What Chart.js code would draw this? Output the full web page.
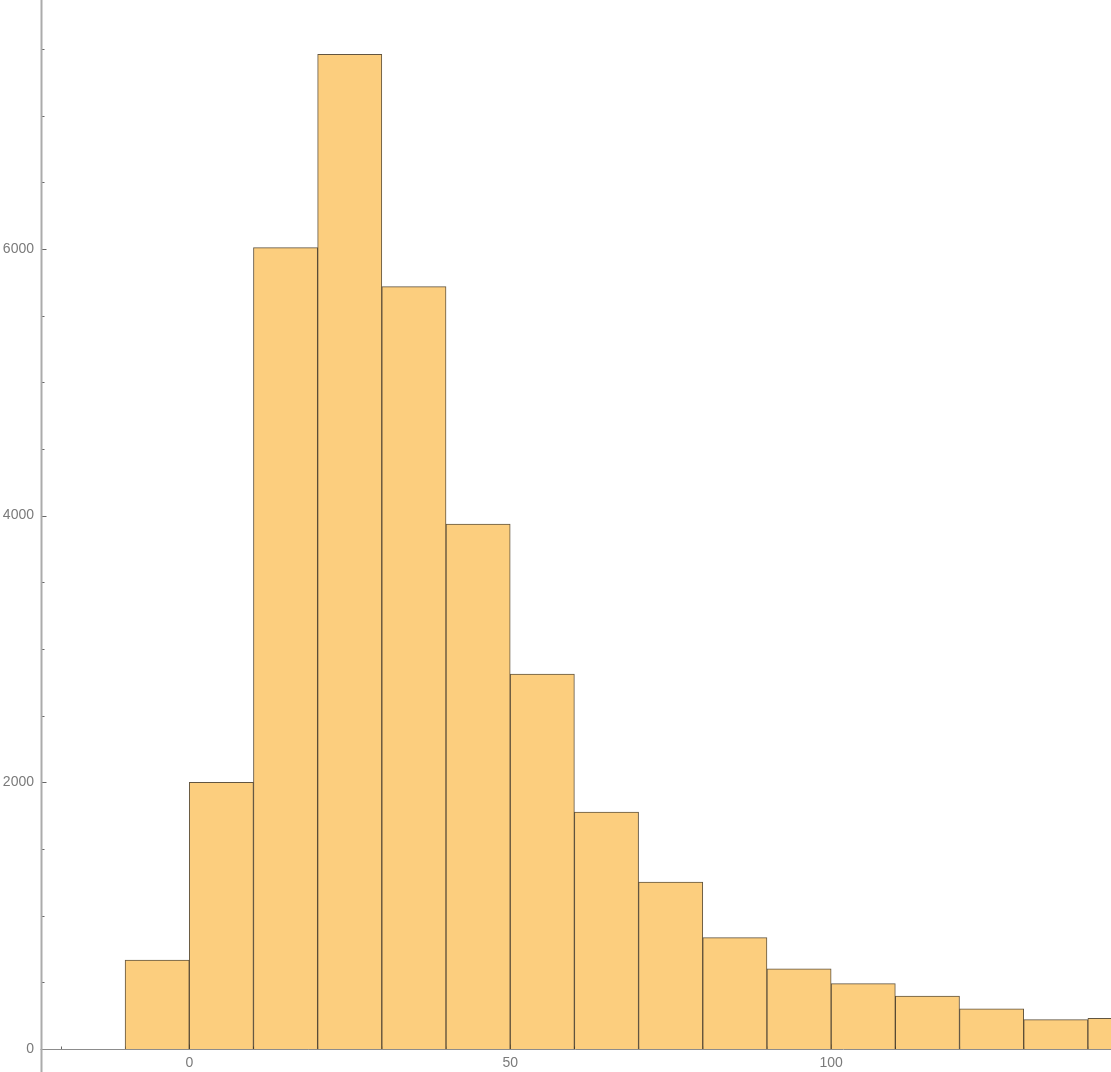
<!DOCTYPE html>
<html><head><meta charset="utf-8">
<script src="https://cdn.jsdelivr.net/npm/chart.js@4"></script>
<style>html,body{margin:0;padding:0;background:#fff;overflow:hidden}</style>
</head><body>
<canvas id="c" width="1111" height="1072"></canvas>
<script>
const binStarts = [-10, 0, 10, 20, 30, 40, 50, 60, 70, 80, 90, 100, 110, 120, 130, 140];
const binWidth = 10;
const counts = [667, 2000, 6010, 7460, 5717, 3937, 2812, 1777, 1252, 835, 602, 490, 397, 302, 220, 230];
const xTickLabels = [0, 50, 100];
const yTickLabels = [0, 2000, 4000, 6000];
const xMinorStep = 10;
const yMinorStep = 500;

const points = binStarts.map((s, i) => ({ x: s + binWidth / 2, y: counts[i] }));

const axisPlugin = {
  id: 'mmaAxes',
  beforeDatasetsDraw(chart) {
    const ctx = chart.ctx, xs = chart.scales.x, ys = chart.scales.y;
    const ax = Math.round(chart.chartArea.left) + 0.5;
    const ay = Math.round(chart.chartArea.bottom) + 0.5;
    ctx.save();
    ctx.strokeStyle = '#666';
    ctx.lineWidth = 1;
    ctx.beginPath();
    for (let v = -20; v <= xs.max; v += xMinorStep) {
      const px = Math.round(xs.getPixelForValue(v)) + 0.5;
      const len = xTickLabels.includes(v) ? 5 : 3;
      ctx.moveTo(px, ay); ctx.lineTo(px, ay - len);
    }
    for (let v = yMinorStep; v <= ys.max; v += yMinorStep) {
      const py = Math.round(ys.getPixelForValue(v)) + 0.5;
      const len = yTickLabels.includes(v) ? 5 : 3;
      ctx.moveTo(ax, py); ctx.lineTo(ax + len, py);
    }
    ctx.stroke();
    ctx.restore();
  },
  afterDatasetsDraw(chart) {
    const ctx = chart.ctx;
    const ax = Math.round(chart.chartArea.left) + 0.5;
    const ay = Math.round(chart.chartArea.bottom) + 0.5;
    ctx.save();
    ctx.lineWidth = 1;
    ctx.strokeStyle = '#8c8c8c';
    ctx.beginPath();
    ctx.moveTo(ax - 1, ay); ctx.lineTo(chart.width, ay);
    ctx.stroke();
    ctx.strokeStyle = '#ababab';
    ctx.lineWidth = 2;
    ctx.beginPath();
    ctx.moveTo(ax, 0); ctx.lineTo(ax, chart.height);
    ctx.stroke();
    ctx.restore();
  }
};

new Chart(document.getElementById('c'), {
  type: 'bar',
  data: {
    datasets: [{
      data: points,
      backgroundColor: 'rgb(252,206,126)',
      borderColor: 'rgba(70,55,30,0.85)',
      borderWidth: 1,
      barPercentage: 1,
      categoryPercentage: 1,
      grouped: false
    }]
  },
  options: {
    responsive: false,
    animation: false,
    devicePixelRatio: 1,
    layout: { padding: 0 },
    plugins: { legend: { display: false }, tooltip: { enabled: false } },
    scales: {
      x: {
        type: 'linear',
        min: -23.1,
        max: 143.6,
        offset: false,
        grid: { display: false, drawTicks: false },
        border: { display: false },
        afterBuildTicks: s => { s.ticks = xTickLabels.map(v => ({ value: v })); },
        afterFit: s => { s.height = 23; s.paddingLeft = 0; s.paddingRight = 0; },
        ticks: {
          autoSkip: false, maxRotation: 0, padding: 6,
          color: '#7a7a7a',
          font: { family: 'Liberation Sans', size: 14 },
          callback: v => String(v)
        }
      },
      y: {
        type: 'linear',
        min: 0,
        max: 7867,
        grid: { display: false, drawTicks: false },
        border: { display: false },
        afterBuildTicks: s => { s.ticks = yTickLabels.map(v => ({ value: v })); },
        afterFit: s => { s.width = 41; s.paddingTop = 0; s.paddingBottom = 0; },
        ticks: {
          autoSkip: false, padding: 7,
          color: '#7a7a7a',
          font: { family: 'Liberation Sans', size: 14 },
          callback: v => String(v)
        }
      }
    }
  },
  plugins: [axisPlugin]
});
</script>
</body></html>
